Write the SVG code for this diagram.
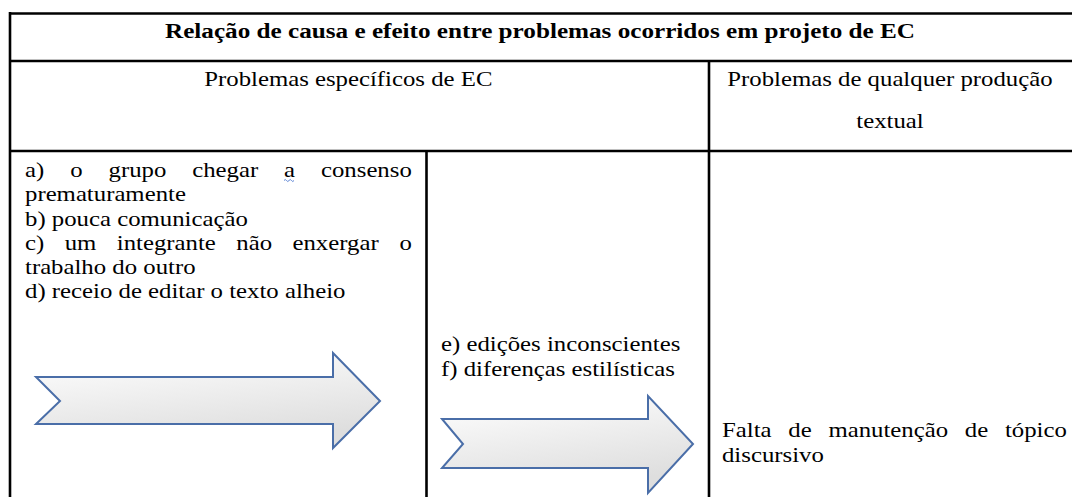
<svg xmlns="http://www.w3.org/2000/svg" width="1072" height="497" viewBox="0 0 1072 497">
  <style>
    .grid { stroke: #000; stroke-width: 2.6; fill: none; }
    .t { font-family: 'Liberation Serif', serif; font-size: 21px; fill: #000; }
    .title { font-family: 'Liberation Serif', serif; font-size: 20px; font-weight: bold; fill: #000; }
    .arrow { fill: url(#arrowFill); stroke: #4a6ea8; stroke-width: 2; stroke-linejoin: miter; }
  </style>
  <defs>
    <linearGradient id="arrowFill" x1="0" y1="0" x2="0.35" y2="1">
      <stop offset="0" stop-color="#ffffff"/>
      <stop offset="1" stop-color="#dedede"/>
    </linearGradient>
  </defs>
  <rect x="0" y="0" width="1072" height="497" fill="#fff"/>

  <g id="table">
    <line class="grid" x1="10" y1="13.5" x2="1074" y2="13.5"/>
    <line class="grid" x1="10" y1="12" x2="10" y2="499"/>
    <line class="grid" x1="10" y1="61" x2="1074" y2="61"/>
    <line class="grid" x1="10" y1="151" x2="1074" y2="151"/>
    <line class="grid" x1="709" y1="61" x2="709" y2="499"/>
    <line class="grid" x1="426.5" y1="151" x2="426.5" y2="499"/>
  </g>

  <g id="title">
    <text class="title" font-family="Liberation Serif" x="165" y="37.5" textLength="750" lengthAdjust="spacingAndGlyphs">Relação de causa e efeito entre problemas ocorridos em projeto de EC</text>
  </g>

  <g transform="scale(1.18 1)" font-family="Liberation Serif">
    <g id="header-ec">
      <text class="t" x="295.2" y="86" text-anchor="middle">Problemas específicos de EC</text>
    </g>
    <g id="header-geral">
      <text class="t" x="754.2" y="86" text-anchor="middle">Problemas de qualquer produção</text>
      <text class="t" x="754.2" y="128" text-anchor="middle">textual</text>
    </g>
    <g id="causas">
      <text class="t" y="177"><tspan x="21.19">a)</tspan><tspan x="59.49">o</tspan><tspan x="91.95">grupo</tspan><tspan x="162.88">chegar</tspan><tspan x="240.76">a</tspan><tspan x="272.03">consenso</tspan></text>
      <text class="t" x="21.19" y="201">prematuramente</text>
      <text class="t" x="21.19" y="226">b) pouca comunicação</text>
      <text class="t" y="250"><tspan x="21.19">c)</tspan><tspan x="54.83">um</tspan><tspan x="98.98">integrante</tspan><tspan x="200.25">não</tspan><tspan x="247.88">enxergar</tspan><tspan x="338.64">o</tspan></text>
      <text class="t" x="21.19" y="274">trabalho do outro</text>
      <text class="t" x="21.19" y="298">d) receio de editar o texto alheio</text>
    </g>
    <g id="efeitos-ec">
      <text class="t" x="373.73" y="351">e) edições inconscientes</text>
      <text class="t" x="373.73" y="376">f) diferenças estilísticas</text>
    </g>
    <g id="efeito-geral">
      <text class="t" y="437"><tspan x="611.86">Falta</tspan><tspan x="668.05">de</tspan><tspan x="702.03">manutenção</tspan><tspan x="817.63">de</tspan><tspan x="851.61">tópico</tspan></text>
      <text class="t" x="611.86" y="462">discursivo</text>
    </g>
  </g>

  <path d="M284,180.5 q1.25,-2 2.5,0 t2.5,0 t2.5,0 t2.5,0" fill="none" stroke="#5b84d6" stroke-width="1"/>

  <g id="connectors">
    <path id="arrow-1" class="arrow" d="M36,377 L333,377 L333,353 L380,401 L333,448 L333,424 L36,424 L60,401 Z"/>
    <path id="arrow-2" class="arrow" d="M442,419 L648,419 L648,396 L693,444 L648,493 L648,468 L442,468 L463,444 Z"/>
  </g>
</svg>
